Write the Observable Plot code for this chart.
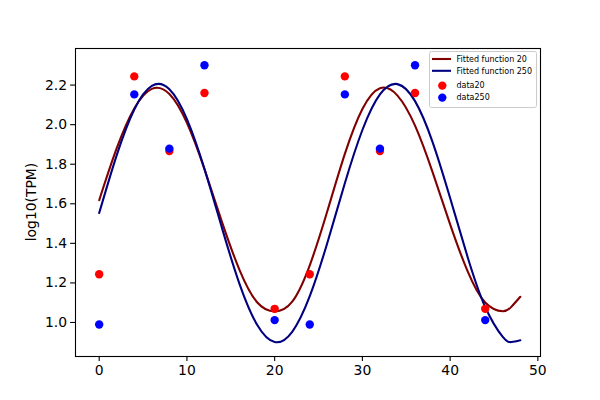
<!DOCTYPE html>
<html>
<head>
<meta charset="utf-8">
<script src="https://cdn.jsdelivr.net/npm/d3@7"></script>
<script src="https://cdn.jsdelivr.net/npm/@observablehq/plot@0.6"></script>
<style>
  html, body { margin: 0; padding: 0; background: #fff; }
  #chart svg { display: block; }
</style>
</head>
<body>
<div id="chart"></div>
<script>
// Measured sample times (hours)
const timePoints = [0, 4, 8, 12, 20, 24, 28, 32, 36, 44];
const data20 = [1.244, 2.244, 1.867, 2.160, 1.069, 1.244, 2.244, 1.867, 2.160, 1.069];
const data250 = [0.990, 2.153, 1.879, 2.300, 1.012, 0.990, 2.153, 1.879, 2.300, 1.012];

// Fitted curves
const fitX = [0, 2, 4, 6, 8, 10, 12, 14, 16, 18, 20, 22, 24, 26, 28, 30, 32, 34, 36, 38, 40, 42, 44, 46, 47, 48];
const fit20 = [1.618, 1.881, 2.082, 2.181, 2.155, 2.009, 1.775, 1.507, 1.265, 1.102, 1.056, 1.105, 1.289, 1.562, 1.852, 2.079, 2.184, 2.147, 1.995, 1.760, 1.496, 1.258, 1.101, 1.057, 1.080, 1.130];
const fit250 = [1.553, 1.846, 2.077, 2.196, 2.179, 2.028, 1.776, 1.477, 1.194, 0.988, 0.901, 0.953, 1.133, 1.402, 1.704, 1.973, 2.153, 2.205, 2.119, 1.912, 1.629, 1.330, 1.078, 0.927, 0.901, 0.910];

const xTicks = [0, 10, 20, 30, 40, 50];
const yTicks = [1.0, 1.2, 1.4, 1.6, 1.8, 2.0, 2.2];
const yLabel = "log10(TPM)";

const legendLabels = ["Fitted function 20", "Fitted function 250", "data20", "data250"];
const lineColors = ["#800000", "#000080"];
const dotColors = ["#ff0000", "#0000ff"];

const curve20 = fitX.map((x, i) => ({x, y: fit20[i]}));
const curve250 = fitX.map((x, i) => ({x, y: fit250[i]}));
const pts20 = timePoints.map((x, i) => ({x, y: data20[i]}));
const pts250 = timePoints.map((x, i) => ({x, y: data250[i]}));

const font = "DejaVu Sans, sans-serif";

const chart = Plot.plot({
  width: 600,
  height: 400,
  marginLeft: 75,
  marginRight: 60,
  marginTop: 48,
  marginBottom: 44,
  style: {fontFamily: font, fontSize: "13.9px", background: "#fff", color: "#000", overflow: "visible"},
  x: {domain: [-2.7, 50.3]},
  y: {domain: [0.828, 2.385]},
  marks: [
    Plot.axisX({ticks: xTicks, tickSize: 4.9, tickPadding: 3.5, label: null, tickFormat: d3.format("d"), fontSize: 13.9, strokeWidth: 1.1, fill: "#000"}),
    Plot.axisY({ticks: yTicks, tickSize: 4.9, tickPadding: 3.5, label: null, tickFormat: d3.format(".1f"), fontSize: 13.9, strokeWidth: 1.1, fill: "#000"}),
    Plot.line(curve20, {x: "x", y: "y", stroke: lineColors[0], strokeWidth: 2.08, curve: "natural"}),
    Plot.line(curve250, {x: "x", y: "y", stroke: lineColors[1], strokeWidth: 2.08, curve: "natural"}),
    Plot.dot(pts20, {x: "x", y: "y", r: 4.2, fill: dotColors[0], stroke: "none"}),
    Plot.dot(pts250, {x: "x", y: "y", r: 4.2, fill: dotColors[1], stroke: "none"}),
    Plot.frame({stroke: "#000", strokeWidth: 1.1})
  ]
});

document.getElementById("chart").appendChild(chart);

const svg = d3.select(chart);

// y-axis label
svg.append("text")
  .attr("transform", "translate(31,202) rotate(-90)")
  .attr("text-anchor", "middle")
  .attr("dy", "0.35em")
  .attr("font-family", font)
  .attr("font-size", 13.9)
  .attr("fill", "#000")
  .text(yLabel);

// legend (upper right, inside axes)
const lg = svg.append("g")
  .attr("font-family", font).attr("font-size", 8).attr("fill", "#000")
  .attr("text-anchor", "start");
lg.append("rect")
  .attr("x", 429.5).attr("y", 51.5).attr("width", 107).attr("height", 56)
  .attr("rx", 2).attr("fill", "#fff").attr("fill-opacity", 0.8)
  .attr("stroke", "#cccccc").attr("stroke-width", 1);
const rowY = [59, 70.8, 85.6, 97.6];
legendLabels.forEach((label, i) => {
  const y = rowY[i];
  if (i < 2) {
    lg.append("line").attr("x1", 432).attr("x2", 451).attr("y1", y).attr("y2", y)
      .attr("stroke", lineColors[i]).attr("stroke-width", 2.08);
  } else {
    lg.append("circle").attr("cx", 442.3).attr("cy", y).attr("r", 4.2).attr("fill", dotColors[i - 2]);
  }
  lg.append("text").attr("x", 456.5).attr("y", y).attr("dy", "0.35em")
    .attr("text-anchor", "start").text(label);
});
</script>
</body>
</html>
